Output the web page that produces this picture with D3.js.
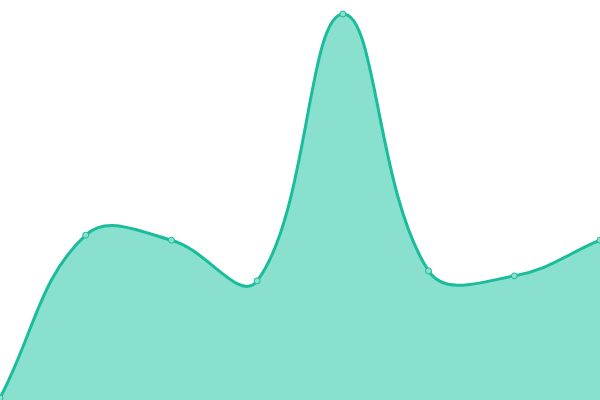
<!DOCTYPE html>
<html>
<head>
<meta charset="utf-8">
<script src="https://cdn.jsdelivr.net/npm/d3@7"></script>
<style>
  body { margin: 0; background: #fff; }
  svg { display: block; }
</style>
</head>
<body>
<script>
var labels = ["A", "B", "C", "D", "E", "F", "G", "H"];
var values = [0, 42.4, 41.1, 30.5, 100, 33.1, 31.8, 41.1];

var width = 600,
    height = 400,
    tension = 0.4;

var svg = d3.select("body").append("svg")
  .attr("width", width)
  .attr("height", height);

var x = d3.scalePoint()
  .domain(labels)
  .range([0, width]);

var y = d3.scaleLinear()
  .domain([0, 100])
  .range([398, 14]);

var pts = values.map(function(d, i) { return [x(labels[i]), y(d)]; });

// spline control points, weighted by segment length
var ctrl = pts.map(function(p, i) {
  var prev = pts[i > 0 ? i - 1 : i],
      next = pts[i < pts.length - 1 ? i + 1 : i];
  var d01 = Math.hypot(p[0] - prev[0], p[1] - prev[1]),
      d12 = Math.hypot(next[0] - p[0], next[1] - p[1]);
  var s01 = d01 / (d01 + d12) || 0,
      s12 = d12 / (d01 + d12) || 0;
  var fa = tension * s01, fb = tension * s12;
  return {
    prev: [p[0] - fa * (next[0] - prev[0]), Math.min(height, Math.max(0, p[1] - fa * (next[1] - prev[1])))],
    next: [p[0] + fb * (next[0] - prev[0]), Math.min(height, Math.max(0, p[1] + fb * (next[1] - prev[1])))]
  };
});

function curvePath(ctx) {
  ctx.moveTo(pts[0][0], pts[0][1]);
  for (var i = 1; i < pts.length; i++) {
    var a = ctrl[i - 1].next, b = ctrl[i].prev;
    ctx.bezierCurveTo(a[0], a[1], b[0], b[1], pts[i][0], pts[i][1]);
  }
  return ctx;
}

// fill
var fill = curvePath(d3.path());
fill.lineTo(pts[pts.length - 1][0], height);
fill.lineTo(pts[0][0], height);
fill.closePath();
svg.append("path")
  .attr("d", fill.toString())
  .style("fill", "#89e0cf");

// line
svg.append("path")
  .attr("d", curvePath(d3.path()).toString())
  .attr("fill", "none")
  .attr("stroke", "#1abc9c")
  .attr("stroke-width", 3);

// points
svg.selectAll(".pt")
  .data(values)
  .enter().append("circle")
  .attr("class", "pt")
  .attr("cx", function(d, i) { return x(labels[i]); })
  .attr("cy", function(d) { return y(d); })
  .attr("r", 3)
  .style("fill", "#89e0cf")
  .attr("stroke", "#1abc9c")
  .attr("stroke-width", 1);
</script>
</body>
</html>
